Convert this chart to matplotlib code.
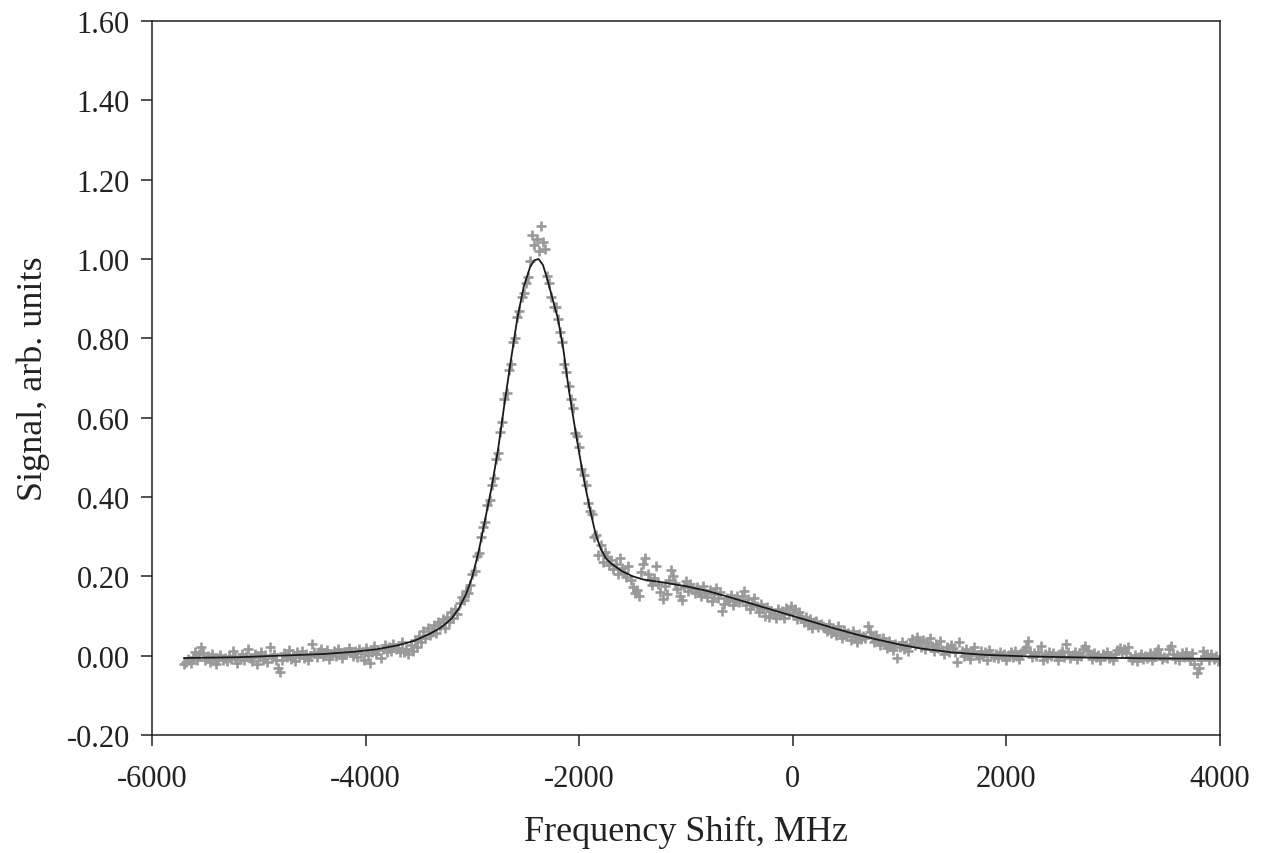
import numpy as np
import matplotlib
matplotlib.use("Agg")
import matplotlib.pyplot as plt

# measured signal, one value every 20 MHz starting at -5700 MHz
signal = [
    -0.022, -0.015, -0.008, -0.018, -0.004, 0.010, -0.012, 0.004, 0.022, 0.006, -0.010, -0.002, -0.016, 0.003, -0.008, -0.020, -0.005, 0.002, -0.012, -0.006,
    -0.014, 0.000, -0.009, 0.012, -0.003, -0.018, -0.007, 0.005, -0.011, -0.001, 0.016, -0.006, -0.013, 0.003, -0.020, -0.004, 0.008, -0.010, 0.001, -0.015,
    0.022, -0.006, 0.004, -0.012, -0.030, -0.040, -0.010, 0.006, -0.004, 0.014, -0.008, 0.002, -0.014, 0.008, -0.003, 0.012, -0.006, 0.004, -0.010, 0.000,
    0.030, 0.010, -0.004, 0.008, 0.018, -0.002, 0.006, 0.014, -0.008, 0.004, 0.012, 0.000, 0.016, 0.006, -0.006, 0.010, 0.003, 0.020, 0.008, -0.002,
    0.012, -0.004, 0.016, 0.006, -0.012, 0.020, 0.002, -0.018, 0.010, 0.024, 0.004, 0.014, -0.006, 0.018, 0.028, 0.008, 0.022, 0.012, 0.030, 0.016,
    0.020, 0.010, 0.034, 0.008, 0.018, 0.004, 0.026, 0.012, 0.040, 0.022, 0.050, 0.035, 0.062, 0.044, 0.070, 0.052, 0.060, 0.078, 0.058, 0.084,
    0.076, 0.092, 0.070, 0.098, 0.085, 0.110, 0.095, 0.118, 0.104, 0.132, 0.148, 0.140, 0.162, 0.158, 0.178, 0.205, 0.214, 0.250, 0.258, 0.300,
    0.325, 0.338, 0.380, 0.392, 0.430, 0.448, 0.495, 0.512, 0.565, 0.590, 0.648, 0.662, 0.720, 0.735, 0.790, 0.800, 0.855, 0.870, 0.905, 0.915,
    0.940, 0.955, 0.995, 1.060, 1.035, 1.050, 1.020, 1.084, 1.044, 1.026, 0.958, 0.940, 0.905, 0.880, 0.878, 0.850, 0.815, 0.790, 0.735, 0.715,
    0.680, 0.648, 0.625, 0.562, 0.555, 0.525, 0.470, 0.455, 0.430, 0.385, 0.365, 0.358, 0.300, 0.305, 0.255, 0.280, 0.236, 0.262, 0.248, 0.228,
    0.240, 0.218, 0.232, 0.205, 0.245, 0.222, 0.212, 0.198, 0.225, 0.190, 0.172, 0.158, 0.165, 0.150, 0.212, 0.232, 0.245, 0.205, 0.190, 0.178,
    0.195, 0.225, 0.180, 0.160, 0.142, 0.175, 0.155, 0.190, 0.215, 0.200, 0.182, 0.168, 0.150, 0.140, 0.172, 0.188, 0.162, 0.180, 0.170, 0.158,
    0.172, 0.160, 0.150, 0.175, 0.158, 0.148, 0.165, 0.138, 0.155, 0.170, 0.145, 0.160, 0.112, 0.130, 0.145, 0.138, 0.152, 0.128, 0.140, 0.150,
    0.135, 0.150, 0.162, 0.128, 0.142, 0.118, 0.132, 0.145, 0.125, 0.110, 0.130, 0.118, 0.100, 0.122, 0.098, 0.112, 0.105, 0.095, 0.118, 0.102,
    0.112, 0.095, 0.120, 0.105, 0.125, 0.108, 0.118, 0.092, 0.110, 0.100, 0.085, 0.098, 0.078, 0.092, 0.070, 0.085, 0.088, 0.072, 0.080, 0.075,
    0.070, 0.062, 0.080, 0.058, 0.068, 0.052, 0.075, 0.060, 0.045, 0.065, 0.050, 0.058, 0.040, 0.062, 0.048, 0.035, 0.055, 0.042, 0.050, 0.045,
    0.075, 0.060, 0.048, 0.035, 0.052, 0.040, 0.028, 0.045, 0.032, 0.020, 0.038, 0.025, 0.015, 0.030, -0.005, 0.022, 0.035, 0.018, 0.028, 0.012,
    0.030, 0.042, 0.028, 0.048, 0.035, 0.022, 0.040, 0.018, 0.032, 0.045, 0.025, 0.012, 0.030, 0.020, 0.038, 0.015, 0.005, 0.022, 0.010, 0.028,
    0.020, 0.008, -0.015, 0.035, 0.012, 0.000, 0.018, 0.005, -0.008, 0.010, 0.022, 0.002, -0.005, 0.012, 0.000, 0.008, -0.010, 0.015, 0.004, -0.003,
    0.005, -0.006, 0.010, -0.002, 0.004, -0.010, 0.002, 0.008, -0.004, 0.012, 0.000, -0.008, 0.006, 0.015, 0.022, 0.038, 0.010, -0.004, 0.006, 0.000,
    0.008, 0.025, -0.012, 0.004, -0.006, 0.010, -0.002, 0.006, 0.000, -0.010, 0.003, 0.012, -0.004, 0.030, 0.008, -0.006, 0.002, 0.010, -0.008, 0.004,
    0.000, 0.018, 0.024, 0.012, 0.004, -0.008, 0.006, -0.004, 0.002, -0.010, 0.005, -0.002, 0.008, -0.006, 0.000, -0.012, 0.004, 0.015, 0.020, 0.010,
    0.018, 0.006, 0.022, -0.004, -0.010, 0.002, -0.014, -0.004, 0.004, -0.008, 0.000, -0.006, 0.006, -0.012, -0.002, 0.010, 0.016, 0.002, -0.008, -0.004,
    -0.006, 0.018, 0.024, 0.004, -0.008, 0.002, -0.012, 0.006, -0.004, 0.010, 0.000, -0.010, 0.006, -0.020, -0.045, -0.032, -0.010, 0.012, -0.002, 0.004,
    -0.012, 0.004, -0.008, 0.000, -0.014, -0.012,
]
freq = -5700 + 20 * np.arange(len(signal))

# fitted curve
fit_x = [-5700, -5200, -4800, -4400, -4100, -3900, -3700, -3550, -3400, -3300,
         -3200, -3130, -3060, -3000, -2940, -2880, -2820, -2760, -2700, -2640,
         -2580, -2520, -2460, -2420, -2380, -2340, -2300, -2250, -2200, -2150,
         -2100, -2050, -2000, -1950, -1900, -1850, -1800, -1750, -1700, -1600,
         -1500, -1400, -1200, -1000, -800, -600, -400, -200, 0, 200,
         400, 600, 800, 1000, 1200, 1500, 1800, 2200, 2800, 3400, 4000]
fit_y = [-0.006, -0.004, 0.0, 0.004, 0.01, 0.016, 0.026, 0.037, 0.055, 0.07,
         0.092, 0.118, 0.155, 0.2, 0.265, 0.345, 0.425, 0.52, 0.635, 0.745,
         0.85, 0.93, 0.98, 0.997, 1.0, 0.985, 0.95, 0.9, 0.85, 0.775,
         0.675, 0.59, 0.51, 0.435, 0.37, 0.31, 0.27, 0.245, 0.232, 0.213,
         0.2, 0.192, 0.184, 0.175, 0.163, 0.148, 0.132, 0.116, 0.1, 0.084,
         0.068, 0.053, 0.04, 0.028, 0.018, 0.008, 0.002, -0.002, -0.005, -0.007, -0.008]

xticks = [-6000, -4000, -2000, 0, 2000, 4000]
yticks = [-0.2, 0.0, 0.2, 0.4, 0.6, 0.8, 1.0, 1.2, 1.4, 1.6]

plt.rcParams['font.family'] = ['Liberation Serif', 'DejaVu Serif']

fig = plt.figure(figsize=(12.64, 8.54), dpi=100)
ax = fig.add_axes([0.1203, 0.1382, 0.8449, 0.836])

ax.plot(freq, signal, linestyle='none', marker='+', markersize=7.5,
        markeredgewidth=1.9, color='#999999', zorder=2)
ax.plot(fit_x, fit_y, color='#1a1a1a', linewidth=1.3, zorder=3)

ax.set_xlim(-6000, 4000)
ax.set_ylim(-0.2, 1.6)
ax.set_xticks(xticks)
ax.set_xticklabels([str(t) for t in xticks])
ax.set_yticks(yticks)
ax.set_yticklabels(['%.2f' % t for t in yticks])

for sp in ax.spines.values():
    sp.set_linewidth(1.1)
    sp.set_color('#222222')
ax.tick_params(direction='out', length=8, width=1.1, color='#222222',
               labelsize=22, labelcolor='#222222')
ax.tick_params(axis='x', pad=13)
ax.tick_params(axis='y', pad=8)

ax.set_xlabel('Frequency Shift, MHz', fontsize=26, color='#222222', labelpad=16)
ax.set_ylabel('Signal, arb. units', fontsize=26, color='#222222', labelpad=12)

fig.savefig('out.png', dpi=100)
